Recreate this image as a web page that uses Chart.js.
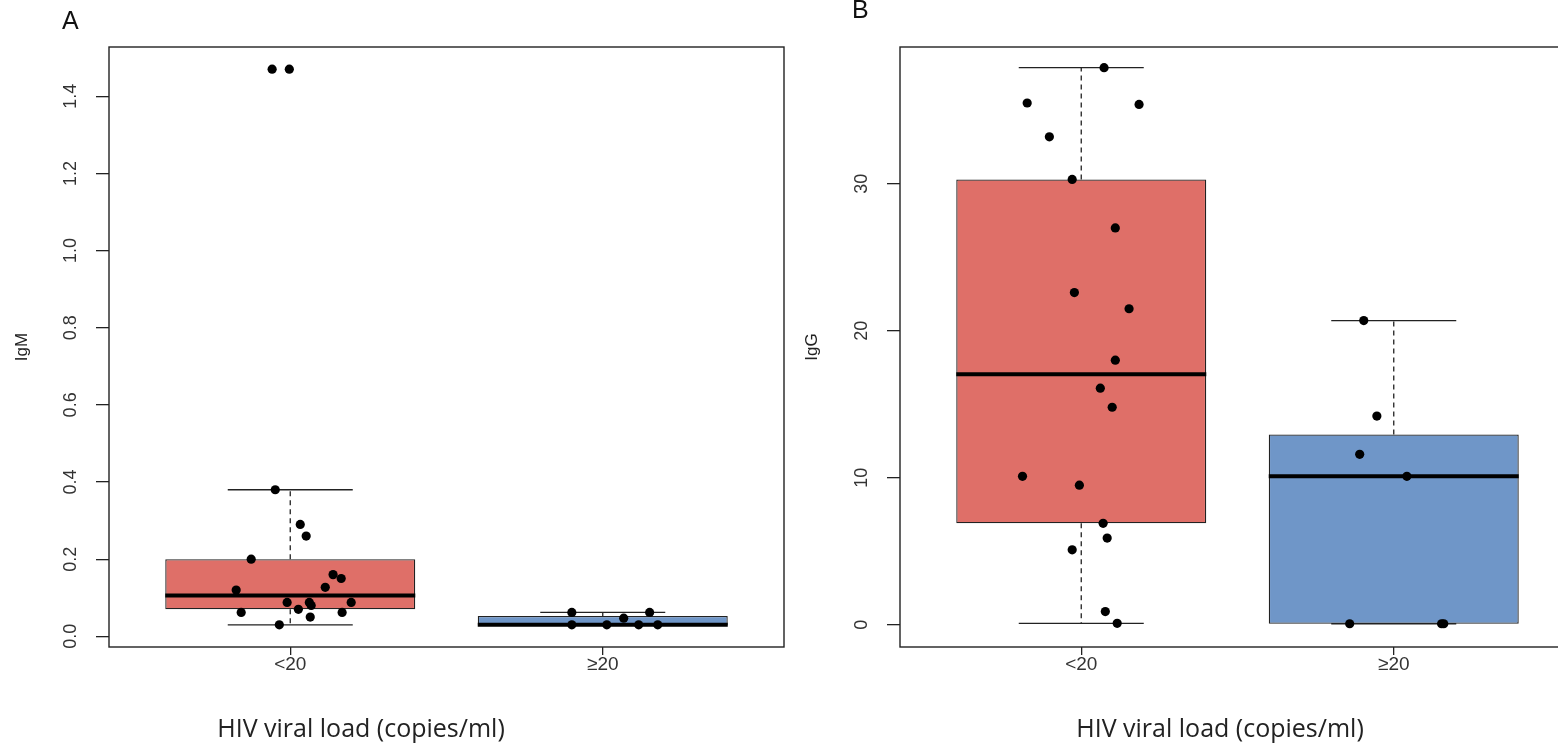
<!DOCTYPE html>
<html>
<head>
<meta charset="utf-8">
<script src="https://cdn.jsdelivr.net/npm/chart.js@4.4.0/dist/chart.umd.min.js"></script>
<style>
  html, body { margin: 0; padding: 0; background: #fff; overflow: hidden; width: 1558px; height: 750px; }
  .wrap { position: absolute; top: 0; width: 800px; height: 750px; }
  #wrapA { left: 0; }
  #wrapB { left: 790px; }
  .panel { position: absolute; font-family: "Liberation Sans", Arial, sans-serif; font-size: 25px; color: #111; line-height: 1; }
  .xtitle { position: absolute; top: 712px; transform: translateX(-50%); white-space: nowrap;
            font-family: "Open Sans", sans-serif; font-size: 25px; line-height: 30px; color: #222; }
</style>
</head>
<body>
<div class="wrap" id="wrapA"><canvas id="chartA" width="800" height="750"></canvas></div>
<div class="wrap" id="wrapB"><canvas id="chartB" width="800" height="750"></canvas></div>
<div class="panel" style="left:62px; top:8px;">A</div>
<div class="panel" style="left:852px; top:-3px;">B</div>
<div class="xtitle" style="left:361px;">HIV viral load (copies/ml)</div>
<div class="xtitle" style="left:1220px;">HIV viral load (copies/ml)</div>
<script>
// ---------- categories ----------
const categories = ['<20', '≥20'];
const categoryPositions = [1, 2];
const boxColors = ['#DF6F68', '#6F96C8'];

// ---------- Panel A: IgM ----------
const igmTicks = [0, 0.2, 0.4, 0.6, 0.8, 1.0, 1.2, 1.4];
const igmWhiskerLow  = [0.03, 0.03];
const igmQ1          = [0.07, 0.028];
const igmMedian      = [0.106, 0.03];
const igmQ3          = [0.20, 0.053];
const igmWhiskerHigh = [0.38, 0.062];
// individual observations (value) and their jittered horizontal position
const igmLt20Values = [1.47, 1.47, 0.38, 0.29, 0.26, 0.20, 0.16, 0.15, 0.127, 0.12, 0.088, 0.088, 0.08, 0.088, 0.07, 0.062, 0.062, 0.05, 0.03];
const igmLt20Jitter = [0.942, 0.997, 0.952, 1.032, 1.051, 0.875, 1.137, 1.163, 1.112, 0.827, 0.990, 1.061, 1.067, 1.195, 1.026, 0.843, 1.166, 1.064, 0.965];
const igmGe20Values = [0.062, 0.062, 0.047, 0.03, 0.03, 0.03, 0.03];
const igmGe20Jitter = [1.901, 2.150, 2.067, 1.901, 2.013, 2.115, 2.176];

// ---------- Panel B: IgG ----------
const iggTicks = [0, 10, 20, 30];
const iggWhiskerLow  = [0.1, 0.07];
const iggQ1          = [6.9, 0.07];
const iggMedian      = [17.05, 10.1];
const iggQ3          = [30.3, 12.95];
const iggWhiskerHigh = [37.9, 20.7];
const iggLt20Values = [37.9, 35.5, 35.4, 33.2, 30.3, 27.0, 22.6, 21.5, 18.0, 16.1, 14.8, 10.1, 9.5, 6.9, 5.9, 5.1, 0.9, 0.1];
const iggLt20Jitter = [1.073, 0.827, 1.185, 0.898, 0.971, 1.109, 0.978, 1.153, 1.109, 1.061, 1.099, 0.812, 0.994, 1.070, 1.083, 0.971, 1.077, 1.115];
const iggGe20Values = [20.7, 14.2, 11.6, 10.1, 0.07, 0.07, 0.07];
const iggGe20Jitter = [1.904, 1.946, 1.891, 2.042, 1.859, 2.153, 2.160];

// ---------- helpers ----------
const TICK_FONT = { family: '"Liberation Sans", Arial, sans-serif', size: 18 };
const XTICK_FONT = { family: '"Liberation Sans", Arial, sans-serif', size: 19 };
const AXIS_COLOR = '#222';

const framePlugin = {
  id: 'frame',
  afterDatasetsDraw(chart) {
    const { ctx, chartArea: a } = chart;
    ctx.save();
    ctx.strokeStyle = AXIS_COLOR;
    ctx.lineWidth = 1.4;
    ctx.strokeRect(a.left, a.top, a.right - a.left, a.bottom - a.top);
    ctx.restore();
  }
};

function buildDatasets(lo, q1, med, q3, hi, groups) {
  const medianLine = [], whiskers = [], caps = [];
  categoryPositions.forEach((p, i) => {
    medianLine.push({ x: p - 0.4, y: med[i] }, { x: p + 0.4, y: med[i] }, { x: p + 0.45, y: null });
    whiskers.push({ x: p, y: q3[i] }, { x: p, y: hi[i] }, { x: p + 0.01, y: null },
                  { x: p, y: q1[i] }, { x: p, y: lo[i] }, { x: p + 0.02, y: null });
    caps.push({ x: p - 0.2, y: hi[i] }, { x: p + 0.2, y: hi[i] }, { x: p + 0.25, y: null },
              { x: p - 0.2, y: lo[i] }, { x: p + 0.2, y: lo[i] }, { x: p + 0.3, y: null });
  });
  const points = [];
  groups.forEach(g => g.values.forEach((v, j) => points.push({ x: g.jitter[j], y: v })));
  return [
    {
      type: 'bar', label: 'box', order: 4,
      data: categoryPositions.map((p, i) => ({ x: p, y: [q1[i], q3[i]] })),
      backgroundColor: boxColors, borderColor: AXIS_COLOR, borderWidth: 1.3, borderSkipped: false,
      barPercentage: 1.0, categoryPercentage: 0.8
    },
    { type: 'line', label: 'whisker', order: 3, data: whiskers, borderColor: '#222', borderWidth: 1.3,
      borderDash: [5, 4], pointRadius: 0, spanGaps: false, fill: false },
    { type: 'line', label: 'cap', order: 2, data: caps, borderColor: '#222', borderWidth: 1.3,
      pointRadius: 0, spanGaps: false, fill: false },
    { type: 'line', label: 'median', order: 1, data: medianLine, borderColor: '#000', borderWidth: 4,
      pointRadius: 0, spanGaps: false, fill: false, borderCapStyle: 'butt' },
    { type: 'scatter', label: 'points', order: 0, data: points, backgroundColor: '#000',
      borderWidth: 0, pointRadius: 4.6, pointHoverRadius: 4.6 }
  ];
}

function makeChart(id, datasets, yMin, yMax, yTicks, yFmt, yTitle, yAxisWidth, yLabelPad, padRight) {
  return new Chart(document.getElementById(id), {
    data: { datasets },
    plugins: [framePlugin],
    options: {
      responsive: false, animation: false, devicePixelRatio: 1,
      layout: { padding: { top: 47, right: padRight, bottom: 0, left: 0 } },
      plugins: { legend: { display: false }, tooltip: { enabled: false }, title: { display: false } },
      scales: {
        x: {
          type: 'linear', min: 0.42, max: 2.58, offset: false,
          afterBuildTicks: s => { s.ticks = categoryPositions.map(v => ({ value: v })); },
          afterFit: s => { s.height = 103; },
          border: { display: false },
          grid: { display: true, offset: false, drawOnChartArea: false, drawTicks: true, tickLength: 8, color: AXIS_COLOR, lineWidth: 1.3 },
          ticks: { font: XTICK_FONT, color: '#333', padding: -2, maxRotation: 0, autoSkip: false,
                   callback: v => categories[categoryPositions.indexOf(v)] },
          title: { display: false }
        },
        y: {
          type: 'linear', min: yMin, max: yMax,
          afterBuildTicks: s => { s.ticks = yTicks.map(v => ({ value: v })); },
          afterFit: s => { s.width = yAxisWidth; },
          border: { display: false },
          grid: { display: true, drawOnChartArea: false, drawTicks: true, tickLength: 13, color: AXIS_COLOR, lineWidth: 1.3 },
          ticks: { font: TICK_FONT, color: '#333', padding: yLabelPad, minRotation: 90, maxRotation: 90,
                   crossAlign: 'center', autoSkip: false, callback: yFmt },
          title: { display: true, text: yTitle, color: '#222',
                   font: { family: '"Liberation Sans", Arial, sans-serif', size: 17 }, padding: { top: 12, bottom: 0 } }
        }
      }
    }
  });
}

makeChart('chartA',
  buildDatasets(igmWhiskerLow, igmQ1, igmMedian, igmQ3, igmWhiskerHigh,
    [{ values: igmLt20Values, jitter: igmLt20Jitter }, { values: igmGe20Values, jitter: igmGe20Jitter }]),
  -0.0276, 1.5276, igmTicks, v => v.toFixed(1), 'IgM', 109, 12, 16);

makeChart('chartB',
  buildDatasets(iggWhiskerLow, iggQ1, iggMedian, iggQ3, iggWhiskerHigh,
    [{ values: iggLt20Values, jitter: iggLt20Jitter }, { values: iggGe20Values, jitter: iggGe20Jitter }]),
  -1.512, 39.31, iggTicks, v => String(Math.round(v)), 'IgG', 110, 15, 15);
</script>
</body>
</html>
